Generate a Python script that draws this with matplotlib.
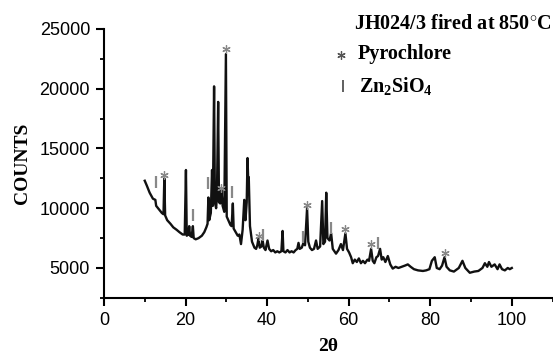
import numpy as np
import matplotlib
matplotlib.use('Agg')
import matplotlib.pyplot as plt
from matplotlib.ticker import MultipleLocator

# XRD trace (2theta, counts)
two_theta = [10.0, 10.5, 11.2, 12.0, 12.6, 12.8, 13.5, 14.2, 14.6, 14.8, 15.0, 15.5, 16.3, 17.0,
             17.8, 18.5, 19.3, 19.8, 20.1, 20.3, 20.7, 20.9, 21.1, 21.5, 21.8, 22.0, 22.5, 23.2,
             24.0, 24.6, 25.1, 25.4, 25.6, 25.8, 26.2, 26.5, 26.7, 27.0, 27.2, 27.5, 27.7, 28.0,
             28.2, 28.5, 28.8, 29.1, 29.5, 29.9, 30.1, 30.6, 31.0, 31.3, 31.6, 31.8, 32.3, 32.8,
             33.2, 33.6, 34.0, 34.4, 34.7, 35.0, 35.2, 35.4, 35.5, 35.8, 36.3, 36.9, 37.3, 37.6,
             37.9, 38.2, 38.6, 38.9, 39.2, 39.6, 40.1, 40.5, 41.0, 41.5, 42.0, 42.5, 43.0, 43.5,
             43.8, 44.0, 44.5, 45.0, 45.5, 46.0, 46.5, 47.0, 47.4, 47.7, 48.0, 48.5, 48.9, 49.3,
             49.8, 50.1, 50.5, 51.0, 51.5, 52.0, 52.4, 53.0, 53.5, 53.8, 54.2, 54.5, 54.8, 55.3,
             55.7, 56.1, 56.9, 57.5, 58.1, 58.6, 59.2, 59.6, 60.1, 60.6, 61.0, 61.5, 62.0, 62.5,
             63.0, 63.5, 64.0, 64.6, 65.0, 65.5, 65.9, 66.3, 66.8, 67.2, 67.7, 68.1, 68.5, 69.0,
             69.6, 70.2, 70.8, 71.5, 72.2, 73.0, 73.8, 74.5, 75.2, 76.0, 77.0, 78.2, 79.0, 79.8,
             80.4, 81.1, 81.6, 82.3, 82.9, 83.5, 84.0, 84.8, 85.8, 87.0, 87.9, 88.6, 89.7, 90.8,
             91.8, 92.8, 93.4, 94.0, 94.4, 95.0, 95.8, 96.5, 97.0, 97.6, 98.3, 99.0, 99.5, 100.0]
counts = [12300, 11900, 11300, 10800, 10700, 10200, 9900, 9600, 9500, 12500, 9400, 9000, 8700, 8400,
          8200, 8000, 7800, 7800, 13200, 7700, 7800, 8500, 7700, 7600, 8500, 7500, 7400, 7500,
          7700, 8000, 8400, 8700, 10900, 9000, 9600, 13200, 10200, 20200, 10500, 10000, 11000, 18900,
          10500, 10400, 11500, 10200, 9700, 22900, 9300, 8900, 8600, 8500, 10400, 8300, 8000, 7700,
          7800, 7000, 8200, 10700, 9000, 10500, 14200, 12000, 12600, 8500, 7200, 6700, 6600, 6900,
          7500, 6700, 6800, 7300, 6700, 6500, 7300, 6600, 6400, 6500, 6300, 6400, 6300, 6400,
          8100, 6400, 6300, 6500, 6300, 6400, 6300, 6500, 6600, 7100, 6600, 6700, 7100, 6900,
          10000, 7200, 6700, 6500, 6600, 7300, 6600, 6800, 10600, 7000, 7200, 11300, 7500, 7300,
          7900, 6600, 6200, 6500, 7000, 6500, 7900, 6600, 6300, 5900, 5400, 5700, 5500, 5800,
          5400, 5600, 5400, 5700, 5600, 6600, 5600, 5400, 5900, 6000, 6600, 5700, 5900, 5500,
          6000, 5300, 4950, 5100, 5000, 5100, 5200, 5300, 5100, 4900, 4800, 4750, 4800, 4900,
          5600, 5900, 5000, 4900, 5200, 5900, 5100, 4800, 4700, 5000, 5600, 5000, 4600, 4700,
          4750, 5000, 5400, 5100, 5500, 5100, 5300, 4900, 5300, 4900, 4800, 5000, 4900, 5000]

# phase markers
pyro_x = [14.8, 28.8, 29.9, 37.9, 49.8, 59.2, 65.5, 83.5]
pyro_y = [12760, 11660, 23290, 7700, 10310, 8290, 7020, 6260]
zn_x = [12.7, 21.8, 25.6, 31.5, 38.9, 48.9, 55.7, 67.3]
zn_y = [12170, 9470, 12080, 11320, 7780, 7610, 8370, 7130]

plt.rcParams['mathtext.fontset'] = 'custom'
plt.rcParams['mathtext.rm'] = 'Liberation Serif:bold'
plt.rcParams['mathtext.it'] = 'Liberation Serif:bold'
plt.rcParams['mathtext.bf'] = 'Liberation Serif:bold'

fig = plt.figure(figsize=(5.53, 3.58), dpi=100)
ax = fig.add_axes([0.188, 0.168, 0.812, 0.751])

ax.plot(two_theta, counts, color='#111111', lw=1.7)
ax.plot(pyro_x, pyro_y, ls='none', marker=(6, 2, 0), ms=6, mew=0.9, color='#888888')
ax.plot(zn_x, zn_y, ls='none', marker='|', ms=8, mew=1.6, color='#888888')

ax.set_xlim(0, 110.1)
ax.set_ylim(2500, 25000)
ax.xaxis.set_major_locator(MultipleLocator(20))
ax.xaxis.set_minor_locator(MultipleLocator(10))
ax.yaxis.set_major_locator(MultipleLocator(5000))
ax.yaxis.set_minor_locator(MultipleLocator(2500))
ax.set_yticks([5000, 10000, 15000, 20000, 25000])

for s in ['top', 'right']:
    ax.spines[s].set_visible(False)
for s in ['left', 'bottom']:
    ax.spines[s].set_linewidth(1.5)

ax.tick_params(which='major', length=6, width=1.5, labelsize=13, pad=4)
ax.tick_params(which='minor', length=3, width=1.3)
for lab in ax.get_xticklabels() + ax.get_yticklabels():
    lab.set_fontfamily('Liberation Sans')

ax.set_xlabel('2θ', family='Liberation Serif', weight='bold', fontsize=14, labelpad=7)
ax.set_ylabel('COUNTS', family='Liberation Serif', weight='bold', fontsize=14, labelpad=6)

fig.text(0.640, 1 - 24 / 358, 'JH024/3 fired at 850$^{\\circ}$C', family='Liberation Serif',
         weight='bold', fontsize=14.5, va='center')
fig.text(0.647, 1 - 54 / 358, 'Pyrochlore', family='Liberation Serif', weight='bold',
         fontsize=14.5, va='center')
fig.text(0.649, 1 - 86 / 358, 'Zn$_2$SiO$_4$', family='Liberation Serif', weight='bold',
         fontsize=14.5, va='center')
fig.lines.append(plt.Line2D([341 / 553], [1 - 55 / 358], transform=fig.transFigure, ls='none',
                            marker=(6, 2, 0), ms=6, mew=0.9, color='#555555'))
fig.lines.append(plt.Line2D([343 / 553], [1 - 86 / 358], transform=fig.transFigure, ls='none',
                            marker='|', ms=9, mew=1.2, color='#444444'))

fig.savefig('out.png', dpi=100)
